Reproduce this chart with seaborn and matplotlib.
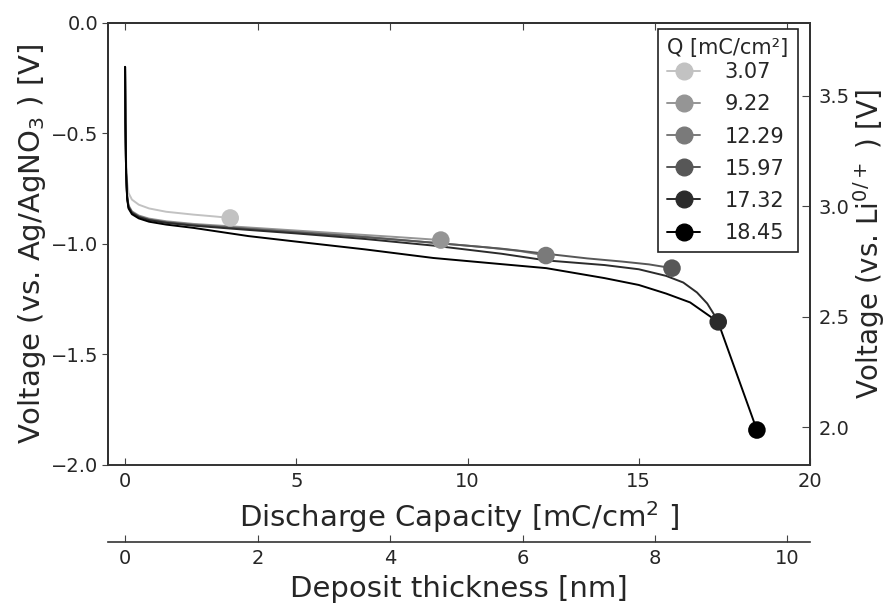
import matplotlib
matplotlib.use("Agg")
import matplotlib.pyplot as plt
from matplotlib.lines import Line2D
import seaborn as sns
import pandas as pd

# Discharge curves: capacity [mC/cm^2] vs potential [V vs Ag/AgNO3]
cap_307 = [0, 0.01, 0.03, 0.06, 0.1, 0.2, 0.4, 0.7, 1.2, 2.0, 2.6, 3.07]
volt_307 = [-0.20, -0.40, -0.62, -0.72, -0.77, -0.80, -0.823, -0.840, -0.855, -0.868, -0.876, -0.883]

cap_922 = [0, 0.01, 0.03, 0.06, 0.1, 0.2, 0.4, 0.7, 1.2, 2.0, 3.5, 5.0, 6.5, 8.0, 9.22]
volt_922 = [-0.20, -0.45, -0.68, -0.78, -0.825, -0.853, -0.872, -0.886, -0.898, -0.910, -0.925, -0.940, -0.955, -0.970, -0.983]

cap_1229 = [0, 0.01, 0.03, 0.06, 0.1, 0.2, 0.4, 0.7, 1.2, 2.0, 3.5, 5.0, 7.0, 9.0, 10.5, 11.5, 12.29]
volt_1229 = [-0.20, -0.45, -0.68, -0.785, -0.83, -0.856, -0.875, -0.889, -0.901, -0.913, -0.930, -0.946, -0.968, -0.995, -1.015, -1.032, -1.053]

cap_1597 = [0, 0.01, 0.03, 0.06, 0.1, 0.2, 0.4, 0.7, 1.2, 2.0, 3.5, 5.0, 7.0, 9.0, 11.0, 12.3, 13.5, 14.5, 15.3, 15.97]
volt_1597 = [-0.20, -0.45, -0.68, -0.79, -0.832, -0.858, -0.877, -0.891, -0.903, -0.915, -0.932, -0.948, -0.970, -0.995, -1.022, -1.045, -1.066, -1.080, -1.093, -1.110]

cap_1732 = [0, 0.01, 0.03, 0.06, 0.1, 0.2, 0.4, 0.7, 1.2, 2.0, 3.5, 5.0, 7.0, 9.0, 11.0, 12.3, 14.0, 15.0, 15.8, 16.3, 16.7, 17.0, 17.2, 17.32]
volt_1732 = [-0.20, -0.45, -0.68, -0.79, -0.834, -0.860, -0.879, -0.893, -0.905, -0.918, -0.936, -0.953, -0.978, -1.008, -1.045, -1.075, -1.096, -1.115, -1.145, -1.175, -1.220, -1.270, -1.320, -1.353]

cap_1845 = [0, 0.01, 0.03, 0.06, 0.1, 0.2, 0.4, 0.7, 1.2, 2.0, 3.6, 5.0, 7.0, 9.0, 11.0, 12.3, 14.0, 15.0, 15.8, 16.5, 17.1, 17.32, 18.45]
volt_1845 = [-0.20, -0.45, -0.68, -0.795, -0.84, -0.866, -0.885, -0.900, -0.913, -0.928, -0.965, -0.990, -1.025, -1.064, -1.092, -1.110, -1.155, -1.186, -1.225, -1.265, -1.330, -1.355, -1.842]

q_values = [3.07, 9.22, 12.29, 15.97, 17.32, 18.45]
q_labels = ["3.07", "9.22", "12.29", "15.97", "17.32", "18.45"]
colors = ["#c2c2c2", "#959595", "#7a7a7a", "#575757", "#2b2b2b", "#000000"]

curves_cap = [cap_307, cap_922, cap_1229, cap_1597, cap_1732, cap_1845]
curves_volt = [volt_307, volt_922, volt_1229, volt_1597, volt_1732, volt_1845]

# reference offset between Ag/AgNO3 and Li/Li+ scales, and nm per mC/cm^2
li_offset = 3.83
nm_per_charge = 0.517

rows = []
for lab, caps, volts in zip(q_labels, curves_cap, curves_volt):
    for c, v in zip(caps, volts):
        rows.append({"cap": c, "volt": v, "Q": lab})
df = pd.DataFrame(rows)
ends = pd.DataFrame({"cap": q_values,
                     "volt": [v[-1] for v in curves_volt],
                     "Q": q_labels})
palette = dict(zip(q_labels, colors))

sns.set_style("white")
plt.rcParams["font.family"] = ["DejaVu Sans"]
plt.rcParams["mathtext.fontset"] = "dejavusans"

TICK_FS = 14
LABEL_FS = 21

fig = plt.figure(figsize=(8.9, 6.03), dpi=100)
ax = fig.add_axes([0.1213, 0.2289, 0.7888, 0.7335])

sns.lineplot(data=df, x="cap", y="volt", hue="Q", palette=palette,
             linewidth=1.4, legend=False, sort=False, ax=ax, zorder=2)
sns.scatterplot(data=ends, x="cap", y="volt", hue="Q", palette=palette,
                s=160, edgecolor="none", legend=False, ax=ax, zorder=3)

ax.set_xlim(-0.5, 20)
ax.set_ylim(-2.0, 0.0)
ax.set_xticks([0, 5, 10, 15, 20])
ax.set_yticks([0.0, -0.5, -1.0, -1.5, -2.0])
ax.set_yticklabels(["0.0", "\u22120.5", "\u22121.0", "\u22121.5", "\u22122.0"])
ax.set_xlabel("Discharge Capacity [mC/cm$^2$ ]", fontsize=LABEL_FS, labelpad=6)
ax.set_ylabel("Voltage (vs. Ag/AgNO$_3$ ) [V]", fontsize=LABEL_FS, labelpad=2)
ax.tick_params(axis="x", which="both", direction="in", top=True, bottom=True,
               length=5, labelsize=TICK_FS, pad=5, color="#444444")
ax.tick_params(axis="y", direction="out", left=True, right=False,
               length=4, labelsize=TICK_FS, pad=3, color="#444444")
for sp in ax.spines.values():
    sp.set_color("#333333")
    sp.set_linewidth(1.2)

# right-hand potential scale vs Li
axr = ax.twinx()
axr.set_ylim(-2.0 + li_offset, 0.0 + li_offset)
axr.set_yticks([2.0, 2.5, 3.0, 3.5])
axr.set_ylabel("Voltage (vs. Li$^{0/+}$ ) [V]", fontsize=20, labelpad=1)
axr.tick_params(axis="y", direction="in", length=6, labelsize=TICK_FS, pad=6,
                color="#444444")
for sp in axr.spines.values():
    sp.set_color("#333333")
    sp.set_linewidth(1.2)

# deposit thickness scale below the main axis
axt = ax.twiny()
axt.set_xlim(-0.5 * nm_per_charge, 20 * nm_per_charge)
axt.set_xticks([0, 2, 4, 6, 8, 10])
axt.xaxis.set_ticks_position("both")
axt.xaxis.set_label_position("bottom")
axt.tick_params(axis="x", direction="in", length=5, labelsize=TICK_FS,
                labelbottom=True, labeltop=False, pad=5, color="#444444")
axt.spines["bottom"].set_position(("outward", 55.5))
axt.spines["bottom"].set_visible(True)
for sp in axt.spines.values():
    sp.set_color("#333333")
    sp.set_linewidth(1.2)
axt.set_xlabel("Deposit thickness [nm]", fontsize=LABEL_FS, labelpad=5)

handles = [Line2D([], [], color=c, marker="o", markersize=12, linewidth=1.4)
           for c in colors]
leg = axt.legend(handles, q_labels, title="Q [mC/cm²]", loc="upper right",
                 bbox_to_anchor=(0.983, 0.986), borderaxespad=0, fontsize=15,
                 title_fontsize=15, handlelength=1.55, handletextpad=1.2,
                 labelspacing=0.58, borderpad=0.45, fancybox=False,
                 edgecolor="#222222", framealpha=1, alignment="left")
leg._legend_box.sep = 3
leg.get_frame().set_linewidth(1.2)
leg.set_zorder(5)

fig.savefig("out.png", dpi=100)
